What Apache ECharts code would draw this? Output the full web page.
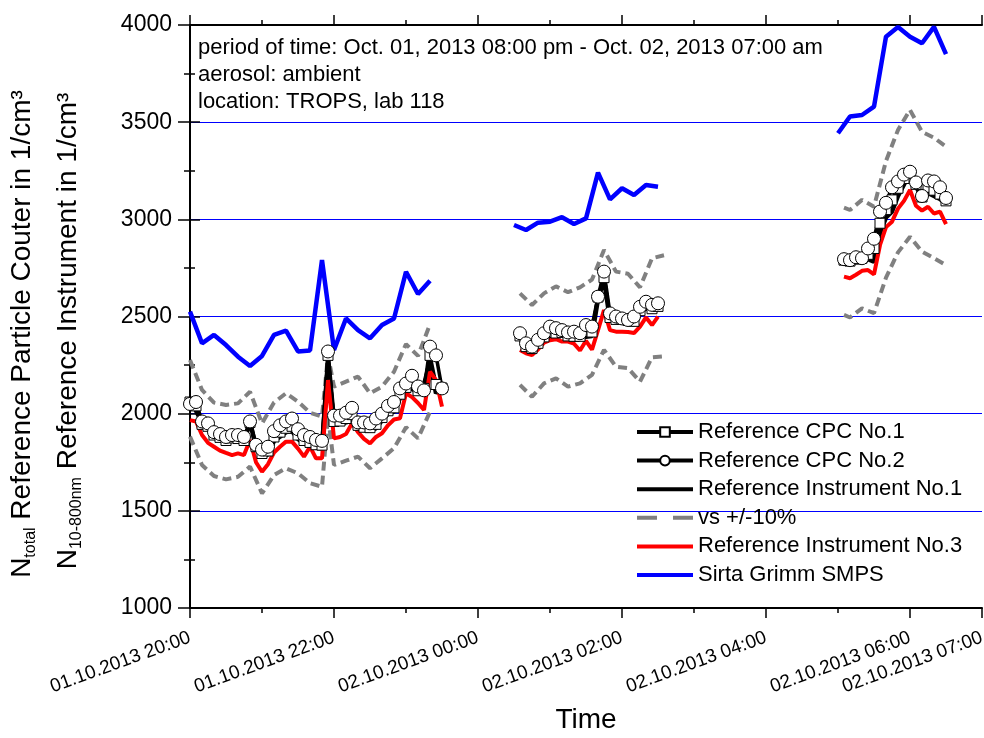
<!DOCTYPE html>
<html>
<head>
<meta charset="utf-8">
<script src="https://cdn.jsdelivr.net/npm/echarts@6/dist/echarts.min.js"></script>
<style>
  html, body { margin: 0; padding: 0; background: #fff; }
  #chart { width: 984px; height: 738px; }
</style>
</head>
<body>
<div id="chart"></div>
<script>
const FONT = 'Liberation Sans, Arial, sans-serif'

// 5 min readings, three measuring periods
const timesA = ['20:00','20:05','20:10','20:15','20:20','20:25','20:30','20:35','20:40','20:45','20:50','20:55',
  '21:00','21:05','21:10','21:15','21:20','21:25','21:30','21:35','21:40','21:45','21:50','21:55',
  '22:00','22:05','22:10','22:15','22:20','22:25','22:30','22:35','22:40','22:45','22:50','22:55',
  '23:00','23:05','23:10','23:15','23:20','23:25','23:30']
const timesB = ['00:35','00:40','00:45','00:50','00:55',
  '01:00','01:05','01:10','01:15','01:20','01:25','01:30','01:35','01:40','01:45','01:50','01:55',
  '02:00','02:05','02:10','02:15','02:20','02:25','02:30']
const timesC = ['05:05','05:10','05:15','05:20','05:25','05:30','05:35','05:40','05:45','05:50','05:55',
  '06:00','06:05','06:10','06:15','06:20','06:25','06:30']

const cpc1A = [2060,2040,1945,1935,1890,1878,1862,1875,1872,1862,1955,1830,1795,1808,1880,1905,1925,1935,1890,1862,
  1852,1840,1838,2300,1960,1962,1975,1995,1940,1930,1928,1945,1980,2015,2030,2100,2135,2160,2118,2130,2300,2150,2132]
const cpc1B = [2400,2345,2335,2362,2395,2420,2415,2418,2400,2398,2398,2425,2420,2600,2700,2495,2485,2485,2480,2475,2530,2560,2540,2552]
const cpc1C = [2790,2785,2795,2800,2820,2850,2980,3050,3100,3160,3210,3240,3180,3115,3165,3150,3130,3095]

const cpc2A = [2050,2060,1960,1950,1905,1895,1880,1890,1890,1880,1960,1840,1815,1830,1910,1940,1960,1975,1920,1890,
  1880,1865,1860,2320,1990,1990,2005,2030,1955,1955,1950,1975,2000,2040,2060,2130,2155,2195,2140,2120,2345,2300,2130]
const cpc2B = [2414,2362,2345,2380,2414,2448,2440,2430,2418,2422,2414,2456,2448,2602,2731,2516,2500,2490,2482,2500,2550,2576,2560,2568]
const cpc2C = [2795,2790,2805,2800,2850,2900,3040,3085,3165,3195,3230,3245,3190,3120,3200,3195,3165,3110]

const inst1A = [2070,2015,1955,1926,1882,1865,1851,1865,1860,1850,1960,1825,1779,1790,1860,1882,1905,1910,1870,1847,
  1835,1825,1822,2259,1945,1948,1955,1967,1930,1916,1916,1925,1965,2000,2010,2080,2122,2130,2105,2150,2268,2105,2139]
const inst1B = [2390,2336,2328,2350,2380,2396,2396,2410,2390,2379,2385,2396,2400,2590,2690,2482,2473,2482,2482,2456,2516,2545,2525,2540]
const inst1C = [2786,2782,2791,2800,2795,2782,2930,3010,3040,3120,3180,3237,3170,3110,3135,3120,3105,3080]

const inst3A = [1967,1960,1890,1850,1830,1810,1798,1787,1796,1787,1865,1750,1701,1740,1800,1830,1856,1856,1820,1779,
  1830,1770,1770,2173,1873,1880,1895,1950,1905,1870,1847,1880,1899,1940,1970,1976,2105,2085,2055,2019,2216,2173,2036]
const inst3B = [2328,2311,2302,2330,2365,2378,2383,2371,2371,2360,2325,2375,2330,2430,2533,2430,2422,2422,2420,2415,2448,2495,2456,2499]
const inst3C = [2705,2697,2715,2735,2739,2717,2868,2960,2988,3055,3095,3151,3070,3045,3065,3030,3040,2975]

// +/-10% band
const grayTimesA = ['20:00','20:10','20:20','20:30','20:40','20:50','21:00','21:10','21:20','21:30','21:40','21:50','21:55',
  '22:00','22:10','22:20','22:30','22:40','22:50','23:00','23:10','23:20']
const grayTimesB = ['00:35','00:45','00:55','01:05','01:15','01:25','01:35','01:45','01:55','02:05','02:15','02:25','02:35']
const grayTimesC = ['05:05','05:10','05:20','05:30','05:40','05:50','06:00','06:10','06:20','06:30']
const upperA = [2276,2122,2057,2045,2053,2113,1950,2057,2105,2062,2005,1985,2300,2139,2165,2191,2105,2139,2216,2358,2297,2460]
const upperB = [2619,2559,2619,2655,2625,2650,2690,2842,2731,2720,2650,2800,2815]
const upperC = [3060,3048,3100,3065,3300,3460,3563,3450,3420,3374]
const lowerA = [1882,1736,1679,1662,1675,1728,1590,1684,1719,1693,1642,1624,1990,1736,1758,1779,1719,1770,1822,1930,1873,2010]
const lowerB = [2148,2087,2156,2182,2139,2156,2200,2328,2242,2234,2165,2290,2295]
const lowerC = [2508,2495,2542,2517,2700,2830,2910,2834,2800,2765]

// SMPS, 10 min
const smpsTimesA = ['20:00','20:10','20:20','20:30','20:40','20:50','21:00','21:10','21:20','21:30','21:40','21:50',
  '22:00','22:10','22:20','22:30','22:40','22:50','23:00','23:10','23:20']
const smpsTimesB = ['00:30','00:40','00:50','01:00','01:10','01:20','01:30','01:40','01:50','02:00','02:10','02:20','02:30']
const smpsTimesC = ['05:00','05:10','05:20','05:30','05:40','05:50','06:00','06:10','06:20','06:30']
const smpsA = [2525,2362,2405,2353,2293,2245,2297,2405,2427,2320,2325,2790,2328,2490,2430,2388,2456,2490,2730,2616,2684]
const smpsB = [2971,2945,2983,2988,3011,2976,3005,3240,3103,3160,3125,3177,3168]
const smpsC = [3443,3529,3537,3580,3940,3990,3940,3906,3990,3850]

const tickHours = [0, 2, 4, 6, 8, 10, 11]
const tickLabels = ['01.10.2013 20:00','01.10.2013 22:00','02.10.2013 00:00','02.10.2013 02:00',
  '02.10.2013 04:00','02.10.2013 06:00','02.10.2013 07:00']

const noteLines = ['period of time: Oct. 01, 2013 08:00 pm - Oct. 02, 2013 07:00 am', 'aerosol: ambient', 'location: TROPS, lab 118']

// hours after 01.10.2013 20:00
function toHours(t) {
  let h = Number(t.slice(0, 2))
  const m = Number(t.slice(3, 5))
  if (h < 12) h += 24
  return h + m / 60 - 20
}

function joinSegs(timeSegs, valueSegs) {
  const out = []
  timeSegs.forEach((times, s) => {
    if (s > 0) out.push([toHours(times[0]) - 0.01, null])
    times.forEach((t, i) => out.push([toHours(t), valueSegs[s][i]]))
  })
  return out
}

const T5 = [timesA, timesB, timesC]
const GT = [grayTimesA, grayTimesB, grayTimesC]
const ST = [smpsTimesA, smpsTimesB, smpsTimesC]

function plainLine(name, data, color, extra) {
  return Object.assign({
    type: 'line', name: name, data: data, symbol: 'none', showSymbol: false,
    lineStyle: { color: color, width: 4 }, itemStyle: { color: color }
  }, extra || {})
}

function markerLine(name, data, symbol, size) {
  return {
    type: 'line', name: name, data: data, symbol: symbol, symbolSize: size, showSymbol: true,
    lineStyle: { color: '#000', width: 3.5 },
    itemStyle: { color: '#fff', borderColor: '#000', borderWidth: 1 }
  }
}

const dashed = [9, 5]

const chart = echarts.init(document.getElementById('chart'))

const tickStyle = { color: '#000', width: 1.5 }
const axisLineStyle = { color: '#000', width: 2 }

const option = {
  animation: false,
  backgroundColor: '#fff',
  textStyle: { fontFamily: FONT },
  grid: { left: 190, right: 2, top: 25, bottom: 130, containLabel: false, outerBoundsMode: 'none' },
  xAxis: [
    {
      type: 'value', position: 'bottom', min: 0, max: 11, interval: 2,
      axisLine: { lineStyle: axisLineStyle },
      axisTick: { length: 10, lineStyle: tickStyle },
      splitLine: { show: false },
      axisLabel: {
        rotate: 20, margin: 29, fontSize: 19, color: '#000', fontFamily: FONT,
        formatter: v => {
          const i = tickHours.indexOf(Math.round(v * 100) / 100)
          return i >= 0 ? tickLabels[i] : ''
        }
      },
      name: 'Time', nameLocation: 'middle', nameGap: 98,
      nameTextStyle: { fontSize: 28, color: '#000', fontFamily: FONT }
    },
    {
      type: 'value', position: 'bottom', min: 0, max: 11, interval: 1,
      axisLine: { show: false }, axisTick: { length: 5, lineStyle: tickStyle },
      axisLabel: { show: false }, splitLine: { show: false }
    },
    {
      type: 'value', position: 'top', min: 0, max: 11, interval: 2,
      axisLine: { lineStyle: axisLineStyle }, axisTick: { length: 10, lineStyle: tickStyle },
      axisLabel: { show: false }, splitLine: { show: false }
    },
    {
      type: 'value', position: 'top', min: 0, max: 11, interval: 1,
      axisLine: { show: false }, axisTick: { length: 5, lineStyle: tickStyle },
      axisLabel: { show: false }, splitLine: { show: false }
    }
  ],
  yAxis: [
    {
      type: 'value', position: 'left', min: 1000, max: 4000, interval: 500,
      axisLine: { show: true, lineStyle: axisLineStyle },
      axisTick: { show: true, length: 12, lineStyle: tickStyle },
      minorTick: { show: true, splitNumber: 2, length: 6, lineStyle: tickStyle },
      axisLabel: { fontSize: 23, color: '#000', margin: 18, fontFamily: FONT, formatter: v => String(v) },
      splitLine: { show: true, lineStyle: { color: '#0000ff', width: 1 } }
    },
    {
      type: 'value', position: 'right', min: 1000, max: 4000, interval: 500,
      axisLine: { show: true, lineStyle: axisLineStyle },
      axisTick: { show: true, length: 10, lineStyle: tickStyle },
      minorTick: { show: true, splitNumber: 2, length: 5, lineStyle: tickStyle },
      axisLabel: { show: false }, splitLine: { show: false }
    }
  ],
  legend: {
    orient: 'vertical', left: 630, top: 416,
    itemWidth: 56, itemHeight: 12, itemGap: 6.6,
    lineStyle: { width: 4 },
    textStyle: { fontSize: 22, color: '#000', fontFamily: FONT },
    data: [
      { name: 'Reference CPC No.1' },
      { name: 'Reference CPC No.2' },
      { name: 'Reference Instrument No.1', itemStyle: { opacity: 0 } },
      { name: 'vs +/-10%', itemStyle: { opacity: 0 }, lineStyle: { width: 4, type: [20, 16] } },
      { name: 'Reference Instrument No.3', itemStyle: { opacity: 0 } },
      { name: 'Sirta Grimm SMPS', itemStyle: { opacity: 0 } }
    ]
  },
  graphic: [
    {
      type: 'text', x: 198, y: 34,
      style: { text: noteLines.join('\n'), fontSize: 22, fontFamily: FONT, lineHeight: 27, fill: '#000' }
    },
    {
      type: 'text', x: 22, y: 334, rotation: Math.PI / 2,
      style: {
        text: '{n|N}{s|total}{n| Reference Particle Couter in 1/cm³}',
        align: 'center', verticalAlign: 'middle',
        rich: {
          n: { fontSize: 28, fontFamily: FONT, fill: '#000', lineHeight: 34 },
          s: { fontSize: 16, fontFamily: FONT, fill: '#000', verticalAlign: 'bottom' }
        }
      }
    },
    {
      type: 'text', x: 68, y: 331, rotation: Math.PI / 2,
      style: {
        text: '{n|N}{s|10-800nm}{n| Reference Instrument in 1/cm³}',
        align: 'center', verticalAlign: 'middle',
        rich: {
          n: { fontSize: 28, fontFamily: FONT, fill: '#000', lineHeight: 34 },
          s: { fontSize: 16, fontFamily: FONT, fill: '#000', verticalAlign: 'bottom' }
        }
      }
    }
  ],
  series: [
    plainLine('vs +/-10%', joinSegs(GT, [upperA, upperB, upperC]), '#808080', { lineStyle: { color: '#808080', width: 4, type: dashed } }),
    plainLine('vs +/-10%', joinSegs(GT, [lowerA, lowerB, lowerC]), '#808080', { lineStyle: { color: '#808080', width: 4, type: dashed } }),
    markerLine('Reference CPC No.1', joinSegs(T5, [cpc1A, cpc1B, cpc1C]), 'rect', 10),
    markerLine('Reference CPC No.2', joinSegs(T5, [cpc2A, cpc2B, cpc2C]), 'circle', 13),
    plainLine('Reference Instrument No.1', joinSegs(T5, [inst1A, inst1B, inst1C]), '#000000', { lineStyle: { color: '#000', width: 4.5 } }),
    plainLine('Reference Instrument No.3', joinSegs(T5, [inst3A, inst3B, inst3C]), '#ff0000'),
    plainLine('Sirta Grimm SMPS', joinSegs(ST, [smpsA, smpsB, smpsC]), '#0000ff', { lineStyle: { color: '#0000ff', width: 4.5 } })
  ]
}

chart.setOption(option)
</script>
</body>
</html>
